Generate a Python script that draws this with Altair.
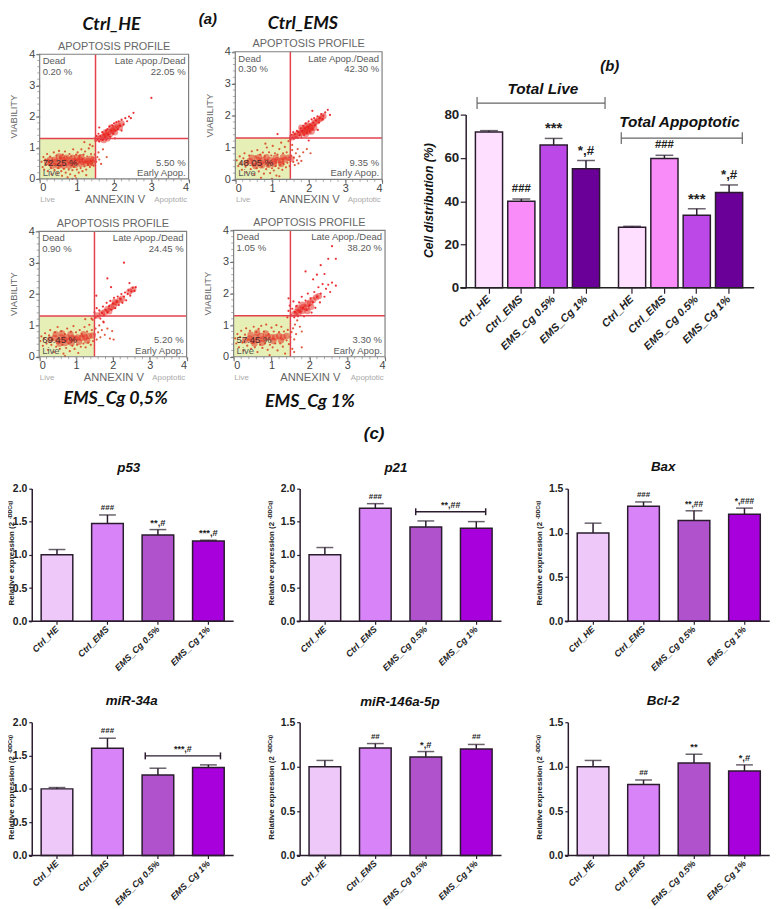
import altair as alt

SANS = "Liberation Sans"
HEAD = "Lato"
INK = "#2a1c2e"

# ---------- flow cytometry dots ----------
HE_live = [(.05,.55),(.08,.38),(.1,.7),(.12,.3),(.15,.62),(.18,.45),(.2,.8),(.22,.25),(.25,.55),(.28,.72),(.3,.35),(.32,.15),(.35,.6),(.38,.85),(.4,.28),(.42,.48),(.45,.75),(.48,.18),(.5,.35),(.52,.9),(.55,.68),(.58,.25),(.6,.1),(.62,.78),(.65,.32),(.68,.88),(.7,.2),(.72,.7),(.75,.05),(.78,.3),(.8,.8),(.82,.15),(.85,.72),(.88,.28),(.9,.95),(.92,.38),(.95,.1),(.98,.78),(1.0,.3),(1.02,.85),(1.05,.2),(1.08,.75),(1.1,.35),(1.12,.95),(1.15,.25),(1.18,.78),(1.2,.4),(1.22,.88),(1.25,.3),(1.28,.72),(1.3,.45),(1.32,.98),(1.35,.38),(1.38,.8),(1.4,.5),(1.42,1.05),(1.45,.42),(1.48,.78),(1.52,.55),(1.55,.7),(1.58,.85),(1.6,.62),(1.65,.48),(1.7,.95),(1.8,.7),(1.35,1.1),(1.2,1.18),(.98,.02),(.88,.0),(1.25,.12)]
HE_late = [(1.5,1.22),(1.52,1.38),(1.55,1.28),(1.58,1.45),(1.6,1.2),(1.63,1.38),(1.65,1.28),(1.68,1.5),(1.7,1.25),(1.72,1.42),(1.75,1.32),(1.78,1.55),(1.8,1.28),(1.82,1.6),(1.85,1.42),(1.88,1.68),(1.9,1.35),(1.92,1.55),(1.95,1.72),(1.98,1.45),(2.0,1.78),(2.03,1.55),(2.06,1.82),(2.1,1.6),(2.12,1.85),(2.16,1.7),(2.2,1.9),(2.25,1.75),(2.3,1.95),(2.35,1.85),(2.4,2.0),(2.45,1.95),(2.52,2.12),(2.02,1.3),(2.2,1.55),(1.6,1.65),(3.0,2.6)]
HE_core = [(.3,.5),(.45,.55),(.55,.48),(.62,.6),(.7,.52),(.78,.6),(.85,.5),(.92,.58),(1.0,.55),(1.08,.62),(1.15,.55),(1.22,.6),(1.3,.58),(1.38,.65),(1.45,.62),(.5,.42),(.65,.42),(.8,.42),(.95,.45),(1.1,.48),(.4,.62),(.6,.68),(1.0,.68),(.2,.55),(.35,.42),(.28,.62),(.72,.68),(.88,.68),(1.12,.7),(1.25,.5),(1.35,.5),(1.42,.52),(.52,.72),(1.62,1.3),(1.7,1.35),(1.75,1.42),(1.8,1.38),(1.85,1.5),(1.9,1.45),(1.95,1.55),(2.0,1.6),(2.05,1.65),(2.1,1.72),(1.55,1.3),(1.72,1.25),(1.82,1.3),(1.78,1.5),(1.92,1.65),(2.02,1.5),(2.15,1.65),(2.2,1.78)]

EMS_live = [(.04,.6),(.08,.42),(.12,.72),(.15,.5),(.18,.3),(.22,.66),(.25,.82),(.28,.4),(.3,.22),(.34,.58),(.38,.75),(.42,.32),(.45,.88),(.48,.45),(.52,.15),(.55,.72),(.58,.35),(.6,.92),(.64,.25),(.68,.78),(.7,.05),(.72,.4),(.75,.84),(.78,.18),(.8,.72),(.84,.32),(.86,1.0),(.9,.42),(.92,.85),(.95,.2),(.98,.75),(1.0,.35),(1.02,1.05),(1.05,.28),(1.08,.82),(1.1,.42),(1.12,.12),(1.15,.78),(1.18,.35),(1.2,.95),(1.22,.45),(1.25,1.15),(1.28,.3),(1.3,.82),(1.32,.48),(1.35,1.02),(1.38,.38),(1.4,.85),(1.42,.52),(1.45,1.2),(1.48,.42),(1.52,.75),(1.55,.92),(1.58,.55),(1.6,.68),(1.62,.45),(1.65,.82),(1.68,.6),(1.7,.95),(1.72,.5),(1.75,.72),(1.8,.58),(1.85,.85),(1.95,.95),(2.05,.82),(1.55,1.08),(1.0,.02),(1.2,.1),(.82,1.12)]
EMS_late = [(1.5,1.25),(1.52,1.4),(1.55,1.3),(1.58,1.48),(1.6,1.28),(1.62,1.42),(1.65,1.32),(1.68,1.52),(1.7,1.3),(1.72,1.48),(1.75,1.38),(1.78,1.6),(1.8,1.32),(1.82,1.52),(1.85,1.68),(1.88,1.4),(1.9,1.6),(1.92,1.75),(1.95,1.45),(1.98,1.65),(2.0,1.82),(2.02,1.5),(2.05,1.72),(2.08,1.88),(2.1,1.58),(2.12,1.78),(2.15,1.92),(2.18,1.7),(2.2,1.85),(2.24,1.98),(2.28,1.78),(2.3,1.92),(2.34,2.05),(2.38,1.88),(2.4,2.0),(2.45,2.1),(2.52,2.18),(2.58,2.02),(2.1,2.15),(1.15,1.42),(2.0,1.22),(2.25,1.55)]
EMS_core = [(.3,.52),(.4,.58),(.5,.5),(.6,.62),(.68,.52),(.75,.6),(.85,.55),(.95,.6),(1.05,.56),(1.15,.6),(1.25,.58),(1.35,.62),(1.45,.68),(1.52,.65),(.55,.42),(.72,.44),(.9,.46),(.45,.68),(.65,.7),(.85,.7),(1.1,.68),(1.3,.7),(1.05,.48),(1.25,.48),(1.55,1.32),(1.62,1.36),(1.7,1.42),(1.76,1.46),(1.82,1.45),(1.85,1.55),(1.9,1.5),(1.93,1.6),(1.98,1.58),(2.02,1.66),(2.07,1.62),(2.1,1.7),(2.16,1.78),(2.22,1.82),(2.28,1.88),(2.34,1.92),(2.4,1.98),(1.8,1.62),(1.92,1.42),(2.0,1.5),(1.95,1.7),(2.08,1.5),(2.15,1.62)]

C05_live = [(.03,.5),(.06,.65),(.1,.35),(.13,.58),(.16,.75),(.2,.42),(.24,.22),(.27,.68),(.3,.85),(.33,.38),(.36,.55),(.4,.15),(.43,.78),(.46,.32),(.5,.95),(.53,.48),(.56,.25),(.6,.82),(.63,.38),(.66,.1),(.7,.72),(.73,.28),(.76,.9),(.8,.42),(.83,.18),(.86,.8),(.9,.35),(.93,.98),(.96,.25),(1.0,.78),(1.03,.38),(1.06,.12),(1.1,.85),(1.13,.32),(1.16,.72),(1.2,.42),(1.23,.95),(1.26,.3),(1.3,.8),(1.33,.45),(1.36,1.02),(1.4,.38),(1.43,.85),(1.46,.5),(1.5,.72),(1.53,.9),(1.56,.55),(1.6,.78),(1.63,1.0),(1.66,.62),(1.7,.85),(1.74,1.12),(1.78,.7),(1.85,.9),(1.92,.58),(1.98,.82),(2.02,.55),(1.45,1.18),(1.25,1.2),(.7,.02)]
C05_late = [(1.42,1.22),(1.5,1.42),(1.53,1.25),(1.56,1.55),(1.6,1.3),(1.63,1.48),(1.66,1.22),(1.7,1.4),(1.73,1.6),(1.76,1.32),(1.8,1.5),(1.83,1.72),(1.86,1.42),(1.9,1.62),(1.93,1.78),(1.96,1.5),(2.0,1.7),(2.03,1.88),(2.06,1.55),(2.1,1.75),(2.13,1.92),(2.16,1.65),(2.2,1.85),(2.23,2.0),(2.26,1.72),(2.3,1.92),(2.33,2.05),(2.36,1.8),(2.4,2.0),(2.43,2.12),(2.47,1.95),(2.5,2.08),(2.54,2.2),(2.58,2.1),(2.62,2.22),(1.85,2.5),(1.95,2.22),(2.3,3.0),(1.55,1.95),(2.45,2.35),(1.75,1.1)]
C05_core = [(.3,.55),(.42,.6),(.52,.5),(.6,.62),(.68,.55),(.75,.62),(.82,.52),(.9,.6),(.98,.58),(1.05,.62),(1.15,.6),(1.25,.62),(1.35,.66),(1.45,.68),(.55,.42),(.7,.44),(.88,.45),(.45,.72),(.62,.74),(.85,.72),(1.08,.48),(1.3,.52),(1.2,.72),(1.7,1.38),(1.78,1.42),(1.85,1.52),(1.95,1.58),(2.02,1.62),(2.1,1.72),(2.18,1.8),(2.25,1.85),(2.45,2.08),(2.55,2.15),(1.58,1.32),(1.9,1.45),(2.05,1.75)]

C1_live = [(.04,.58),(.07,.42),(.1,.72),(.14,.3),(.17,.62),(.2,.82),(.23,.45),(.26,.2),(.3,.7),(.33,.9),(.36,.35),(.4,.55),(.43,.82),(.46,.25),(.5,.45),(.53,.95),(.56,.3),(.6,.78),(.63,.15),(.66,.88),(.7,.38),(.73,.98),(.76,.28),(.8,.8),(.83,.42),(.86,1.02),(.9,.22),(.93,.72),(.96,.38),(1.0,.92),(1.03,.3),(1.06,.8),(1.1,.42),(1.13,1.0),(1.16,.2),(1.2,.78),(1.23,.42),(1.26,.95),(1.3,.32),(1.33,.8),(1.36,.1),(1.4,.52),(1.43,.85),(1.46,.4),(1.5,.62),(1.53,.78),(1.57,.9),(1.6,.55),(1.62,1.02),(1.65,.72),(1.68,1.15),(1.55,.25),(1.8,.8),(1.8,.3),(1.75,.95),(1.6,.15),(.95,.05)]
C1_late = [(1.42,1.25),(1.45,1.45),(1.48,1.62),(1.52,1.3),(1.55,1.52),(1.58,1.75),(1.6,1.25),(1.62,1.42),(1.66,1.6),(1.7,1.28),(1.73,1.72),(1.76,1.42),(1.8,1.9),(1.83,1.55),(1.86,1.28),(1.9,1.78),(1.93,1.48),(1.96,2.0),(2.0,1.62),(2.03,1.85),(2.06,1.4),(2.1,1.72),(2.13,2.05),(2.16,1.55),(2.2,1.9),(2.24,2.2),(2.28,1.72),(2.3,2.0),(2.35,2.3),(2.4,1.9),(2.44,2.15),(2.5,2.28),(2.55,2.05),(2.6,2.35),(2.7,2.25),(1.9,2.7),(2.1,2.45),(2.3,2.9),(2.5,3.1),(2.7,3.1),(2.6,3.5),(2.4,2.62),(2.2,2.6),(1.45,1.85)]
C1_core = [(.3,.52),(.42,.58),(.5,.5),(.58,.62),(.66,.54),(.72,.66),(.8,.56),(.9,.62),(1.0,.62),(1.1,.62),(1.2,.66),(1.3,.62),(1.4,.66),(.55,.42),(.75,.44),(.45,.7),(.62,.76),(.85,.74),(1.05,.5),(1.25,.52),(1.6,1.35),(1.66,1.42),(1.72,1.4),(1.76,1.5),(1.82,1.45),(1.85,1.58),(1.92,1.55),(1.96,1.68),(2.02,1.72),(2.1,1.8),(2.18,1.88),(2.25,1.92),(1.7,1.55),(1.82,1.65),(1.95,1.45),(2.05,1.58)]

SCATTER = [
    ("Ctrl_HE", 40, 190.5, 50, 176, HE_live, HE_late, HE_core, ["0.20 %", "22.05 %", "5.50 %", "72.25 %"], 112.7, 20),
    ("Ctrl_EMS", 237.7, 386, 47.5, 176.5, EMS_live, EMS_late, EMS_core, ["0.30 %", "42.30 %", "9.35 %", "48.05 %"], 306, 19.5),
    ("EMS_Cg 0,5%", 39.5, 188.5, 229, 355.7, C05_live, C05_late, C05_core, ["0.90 %", "24.45 %", "5.20 %", "69.45 %"], 116.7, 398),
    ("EMS_Cg 1%", 236, 389, 228, 355.7, C1_live, C1_late, C1_core, ["1.05 %", "38.20 %", "3.30 %", "57.45 %"], 313, 401),
]

# ---------- bar panels ----------
CATS = ["Ctrl_HE", "Ctrl_EMS", "EMS_Cg 0.5%", "EMS_Cg 1%"]
B_COLORS = ["#ffdfff", "#f98cf9", "#bd48e8", "#6a0098"]
C_COLORS = ["#eec8f8", "#d884f8", "#b052cc", "#a800dc"]

LIVE = [72, 40, 66, 55]
LIVE_ERR = [0.6, 1.0, 3.0, 3.8]
LIVE_SIG = ["", "###", "***", "*,#"]
APOP = [28, 59.7, 33.5, 44]
APOP_ERR = [0.4, 1.5, 3.0, 3.5]
APOP_SIG = ["", "###", "***", "*,#"]

P53 = [1.0, 1.47, 1.30, 1.21]
P53_ERR = [0.08, 0.13, 0.08, 0.01]
P53_SIG = ["", "###", "**,#", "***,#"]
P21 = [1.0, 1.70, 1.42, 1.40]
P21_ERR = [0.11, 0.07, 0.09, 0.10]
P21_SIG = ["", "###", "", ""]
BAX = [1.0, 1.30, 1.14, 1.21]
BAX_ERR = [0.11, 0.05, 0.11, 0.07]
BAX_SIG = ["", "###", "**,##", "*,###"]
MIR34 = [1.0, 1.61, 1.21, 1.32]
MIR34_ERR = [0.02, 0.15, 0.10, 0.04]
MIR34_SIG = ["", "###", "", ""]
MIR146 = [1.0, 1.21, 1.11, 1.20]
MIR146_ERR = [0.07, 0.05, 0.06, 0.05]
MIR146_SIG = ["", "##", "*,#", "##"]
BCL2 = [1.0, 0.80, 1.04, 0.95]
BCL2_ERR = [0.07, 0.05, 0.10, 0.07]
BCL2_SIG = ["", "##", "**", "*,#"]

GENES = [
    ("p53", P53, P53_ERR, P53_SIG, 2.0, 32, 623, 488.7, 130, 468, 12, None),
    ("p21", P21, P21_ERR, P21_SIG, 2.0, 302.7, 623, 488.7, 400, 468, 275, ("**,##", 420, 490.7, 512.3)),
    ("Bax", BAX, BAX_ERR, BAX_SIG, 1.5, 573.7, 623, 489, 670, 467, 546, None),
    ("miR-34a", MIR34, MIR34_ERR, MIR34_SIG, 2.0, 32, 859.7, 725, 133, 704, 12, ("***,#", 146.7, 222.7, 759)),
    ("miR-146a-5p", MIR146, MIR146_ERR, MIR146_SIG, 1.5, 302.7, 859.7, 725, 404, 705, 275, None),
    ("Bcl-2", BCL2, BCL2_ERR, BCL2_SIG, 1.5, 573.7, 859.7, 725, 670, 704, 546, None),
]

W, H = 770, 901


def one():
    return alt.Data(values=[{"a": 1}])


def txt(s, x, y, size, color="#222222", weight="normal", style="normal", font=SANS, align="center", angle=0):
    return alt.Chart(alt.Data(values=[{"t": s}])).mark_text(
        fontSize=size, color=color, fontWeight=weight, fontStyle=style, font=font,
        align=align, baseline="middle", angle=angle,
    ).encode(x=alt.value(x - 8), y=alt.value(y - 8), text="t:N")


def hline(x0, x1, y, color=INK, w=1.5):
    return alt.Chart(one()).mark_rule(color=color, strokeWidth=w).encode(
        x=alt.value(x0 - 8), x2=alt.value(x1 - 8), y=alt.value(y - 8))


def vline(x, y0, y1, color=INK, w=1.5):
    return alt.Chart(one()).mark_rule(color=color, strokeWidth=w).encode(
        x=alt.value(x - 8), y=alt.value(y0 - 8), y2=alt.value(y1 - 8))


def bracket(x0, x1, y, cap, color=INK, w=1.5):
    return [hline(x0, x1, y, color, w), vline(x0, y - cap, y + cap, color, w), vline(x1, y - cap, y + cap, color, w)]


def scatter_panel(spec):
    name, L, R, T, B, live, late, core, pct, nx, ny = spec
    sx = alt.Scale(domain=[0, 4], range=[L - 8, R - 8], nice=False)
    sy = alt.Scale(domain=[0, 4], range=[B - 8, T - 8], nice=False)
    xa = alt.Axis(orient="bottom", offset=B - 8 - H, values=[0, 1, 2, 3, 4], grid=False, title=None, labelAngle=0,
                  labelFont=SANS, labelFontSize=11, labelColor="#444444", domain=False,
                  tickColor="#666666", tickSize=4, labelPadding=-1, format="d")
    ya = alt.Axis(orient="left", offset=-(L - 8), values=[0, 1, 2, 3, 4], grid=False, title=None,
                  labelFont=SANS, labelFontSize=11, labelColor="#444444", domain=False,
                  tickColor="#666666", tickSize=4, labelPadding=1, format="d")

    def xy(chart, x="x", y="y"):
        return chart.encode(x=alt.X(f"{x}:Q", scale=sx, axis=None), y=alt.Y(f"{y}:Q", scale=sy, axis=None))

    green = alt.Chart(alt.Data(values=[{"x": 0, "x2": 1.5, "y": 0, "y2": 1.3}])).mark_rect(color="#e6f0b6").encode(
        x=alt.X("x:Q", scale=sx, axis=xa), x2="x2:Q", y=alt.Y("y:Q", scale=sy, axis=ya), y2="y2:Q")
    frame = alt.Chart(alt.Data(values=[{"x": 0, "x2": 4, "y": 0, "y2": 4}])).mark_rect(
        fill="transparent", stroke="#808080", strokeWidth=1.2).encode(
        x=alt.X("x:Q", scale=sx, axis=None), x2="x2:Q", y=alt.Y("y:Q", scale=sy, axis=None), y2="y2:Q")
    minor = [0.2 * i for i in range(21)]
    xminor = alt.Chart(alt.Data(values=[{"x": v} for v in minor])).mark_rule(color="#777777", strokeWidth=0.6).encode(
        x=alt.X("x:Q", scale=sx, axis=None), y=alt.value(B - 8), y2=alt.value(B - 8 + 2.5))
    yminor = alt.Chart(alt.Data(values=[{"y": v} for v in minor])).mark_rule(color="#777777", strokeWidth=0.6).encode(
        y=alt.Y("y:Q", scale=sy, axis=None), x=alt.value(L - 8), x2=alt.value(L - 8 - 2.5))
    live_pts = xy(alt.Chart(alt.Data(values=[{"x": a, "y": b} for a, b in live])).mark_circle(
        size=5, color="#d8401c", opacity=0.85))
    late_pts = xy(alt.Chart(alt.Data(values=[{"x": a, "y": b} for a, b in late])).mark_circle(
        size=5, color="#ea1c20", opacity=0.9))
    core_pts = xy(alt.Chart(alt.Data(values=[{"x": a, "y": b} for a, b in core])).mark_circle(
        size=42, color="#e6261e", opacity=0.5))
    vred = alt.Chart(alt.Data(values=[{"x": 1.5, "y": 0, "y2": 4}])).mark_rule(color="#e4414c", strokeWidth=1.5).encode(
        x=alt.X("x:Q", scale=sx, axis=None), y=alt.Y("y:Q", scale=sy, axis=None), y2="y2:Q")
    hred = alt.Chart(alt.Data(values=[{"x": 0, "x2": 4, "y": 1.3}])).mark_rule(color="#e4414c", strokeWidth=1.5).encode(
        x=alt.X("x:Q", scale=sx, axis=None), x2="x2:Q", y=alt.Y("y:Q", scale=sy, axis=None))
    out = [green, core_pts, live_pts, late_pts, vred, hred, frame, xminor, yminor]

    mid = (L + R) / 2
    gray = "#5a5a5a"
    out += [
        txt("APOPTOSIS PROFILE", mid, T - 7.5, 11, "#666666"),
        txt("Dead", L + 3, T + 7, 9.6, gray, align="left"),
        txt(pct[0], L + 3, T + 17.5, 9.6, gray, align="left"),
        txt("Late Apop./Dead", R - 3, T + 7, 9.6, gray, align="right"),
        txt(pct[1], R - 3, T + 17.5, 9.6, gray, align="right"),
        txt(pct[2], R - 3, B - 16.5, 9.6, gray, align="right"),
        txt("Early Apop.", R - 3, B - 6, 9.6, gray, align="right"),
        txt(pct[3], L + 3, B - 16.5, 9.6, "#4a2a2a", align="left"),
        txt("Live", L + 3, B - 6, 9.6, gray, align="left"),
        txt("Live", L + 8, B + 21, 8, "#aaaaaa"),
        txt("ANNEXIN V", mid + 1, B + 21, 11.3, "#666666"),
        txt("Apoptotic", R - 18, B + 21, 8, "#aaaaaa"),
        txt("VIABILITY", L - 25.5, (T + B) / 2, 9.5, "#666666", angle=270),
        txt(name, nx, ny, 18, "#111111", "bold", "italic", HEAD),
    ]
    return out


def bar_group(values, errs, sigs, colors, xrange, ymax, y0, y1, pi, sizes, axis_y=None, x_label_size=9,
              y_label_size=10.5, dy=-7, cap=17, bar_w=1.5, tick=3, x_pad=3, y_pad=2):
    rows = [{"c": c, "v": v, "e": v + e, "s": s, "f": f, "z": sizes.get(s, 8)}
            for c, v, e, s, f in zip(CATS, values, errs, sigs, colors)]
    sx = alt.Scale(type="band", domain=CATS, range=[xrange[0] - 8, xrange[1] - 8], paddingInner=pi, paddingOuter=pi / 2)
    sy = alt.Scale(domain=[0, ymax], range=[y0 - 8, y1 - 8], nice=False)
    xa = alt.Axis(orient="bottom", offset=y0 - 8 - H, title=None, grid=False, labelAngle=315, labelAlign="right",
                  labelBaseline="middle", labelFont=SANS, labelFontSize=x_label_size, labelFontWeight="bold",
                  labelFontStyle="italic", labelColor="#222222", labelPadding=x_pad, domain=False,
                  tickColor=INK, tickWidth=1.2, tickSize=tick, labelOverlap=False, labelLimit=0)
    xenc = alt.X("c:N", scale=sx, axis=None, sort=None)
    base = alt.Chart(alt.Data(values=rows))
    bars_y = alt.Y("v:Q", scale=sy, axis=None)
    if axis_y is not None:
        step = axis_y["step"]
        n = int(round(ymax / step))
        bars_y = alt.Y("v:Q", scale=sy, axis=alt.Axis(
            orient="left", offset=-(axis_y["x"] - 8), title=None, grid=False,
            values=[round(step * i, 3) for i in range(n + 1)], format=axis_y["fmt"],
            labelFont=SANS, labelFontSize=y_label_size, labelFontWeight="bold", labelColor="#222222",
            labelPadding=y_pad, domainColor=INK, domainWidth=1.5, tickColor=INK, tickWidth=1.2, tickSize=tick))
    err_rule = base.mark_rule(color=INK, strokeWidth=bar_w).encode(
        x=xenc, y=alt.Y("v:Q", scale=sy, axis=None), y2="e:Q")
    err_cap = base.mark_tick(color=INK, thickness=bar_w, size=cap, orient="horizontal").encode(
        x=xenc, y=alt.Y("e:Q", scale=sy, axis=None))
    bars = base.mark_bar(stroke=INK, strokeWidth=1.5).encode(
        x=alt.X("c:N", scale=sx, axis=xa, sort=None), y=bars_y, fill=alt.Fill("f:N", scale=None))
    sig = base.mark_text(font=SANS, fontWeight="bold", color="#222222", dy=dy, baseline="middle").encode(
        x=xenc, y=alt.Y("e:Q", scale=sy, axis=None), text="s:N", size=alt.Size("z:Q", scale=None))
    return [err_rule, err_cap, bars, sig]


panels = []
for s in SCATTER:
    panels += scatter_panel(s)

B_SIZES = {"###": 11.5, "***": 15, "*,#": 13.5}
C_SIZES = {"###": 8, "##": 8, "**": 9.5, "**,#": 9.5, "***,#": 9.5, "**,##": 8.5, "*,###": 8.5, "*,#": 9.5}

# panel (b): two groups of bars, each on its own band scale
LEFT_B = (477.7, 608.4)
RIGHT_B = (622.3, 753)
panels += bar_group(LIVE, LIVE_ERR, LIVE_SIG, B_COLORS, LEFT_B, 80, 286, 111, 0.16, B_SIZES,
                    axis_y={"x": 470.5, "step": 20, "fmt": "d"}, x_label_size=11, y_label_size=13.5,
                    dy=-10, cap=18, tick=5.5, x_pad=4, y_pad=1.5)
panels += bar_group(APOP, APOP_ERR, APOP_SIG, B_COLORS, RIGHT_B, 80, 286, 111, 0.16, B_SIZES,
                    x_label_size=11, dy=-10, cap=18, tick=5.5, x_pad=4)
panels.append(hline(465, 762, 286, "#222222", 1.6))
panels += bracket(482, 611.3, 99.3, 6, "#666666", 1.2)
panels += bracket(627.7, 750, 134.7, 6, "#666666", 1.2)
panels.append(txt("Total Live", 548.5, 85, 15.5, "#111111", "bold", "italic"))
panels.append(txt("Total Appoptotic", 686.5, 119, 15.5, "#111111", "bold", "italic"))
panels.append(txt("Cell distribution (%)", 433, 198, 12.3, "#111111", "bold", "italic", angle=270))
panels.append(txt("(a)", 210, 14, 15, "#111111", "bold", "italic"))
panels.append(txt("(b)", 616, 62, 15, "#111111", "bold", "italic"))
panels.append(txt("(c)", 378, 434, 17, "#111111", "bold", "italic"))

# panel (c): six gene panels
for name, vals, errs, sigs, ymax, xl, y0, y1, tx, ty, ylab, br in GENES:
    panels += bar_group(vals, errs, sigs, C_COLORS, (xl, xl + 204), ymax, y0, y1, 0.373, C_SIZES,
                        axis_y={"x": xl, "step": 0.5, "fmt": ".1f"})
    panels.append(hline(xl - 3, xl + 204, y0, INK, 1.5))
    panels.append(txt(name, tx, ty, 13.5, "#111111", "bold", "italic"))
    panels.append(txt("Relative expression (2", ylab, y0 - 16, 8, "#222222", "bold", align="left", angle=270))
    panels.append(txt("-DDCq)", ylab - 2, y0 - 103, 5.5, "#222222", "bold", align="left", angle=270))
    if br:
        label, bx0, bx1, by = br
        panels += bracket(bx0, bx1, by, 3.5)
        panels.append(txt(label, (bx0 + bx1) / 2, by - 7, 9, "#222222", "bold"))

chart = alt.layer(*panels).resolve_scale(x="independent", y="independent").resolve_axis(
    x="independent", y="independent"
).properties(
    width=W, height=H, padding=0, autosize=alt.AutoSizeParams(type="none"), background="white"
).configure_view(stroke=None)

chart.save("out.html", embed_options={"renderer": "svg", "actions": False})
